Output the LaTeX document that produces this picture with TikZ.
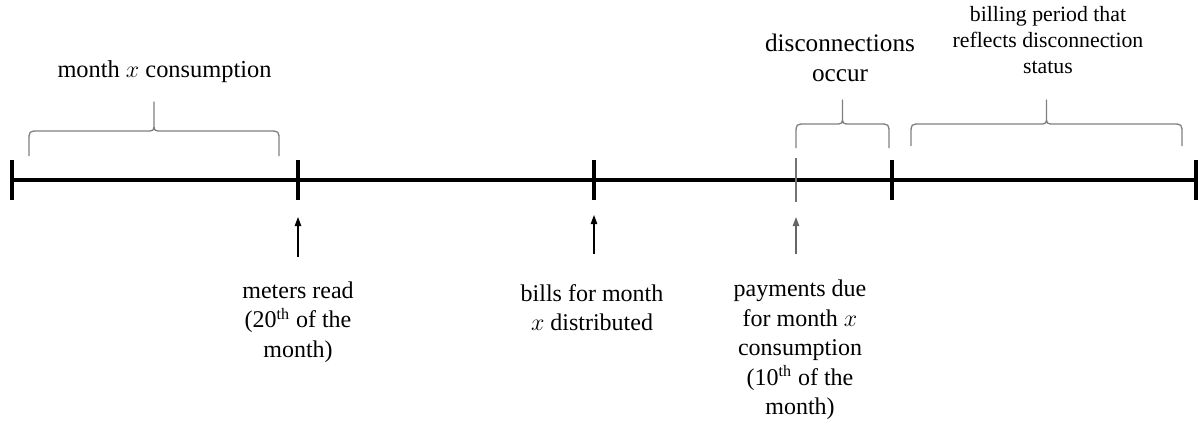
\documentclass[tikz,border=0pt]{standalone}
\usepackage{fontspec}
\setmainfont{Liberation Serif}
\newfontfamily\lserif{Liberation Serif}
\usetikzlibrary{arrows.meta}
\newcommand\timebrace[5]{%
  \pgfmathsetmacro\bmid{(#1+#2)/2}%
  \draw[bracestyle] (#1,#3) -- (#1,#4+10) .. controls (#1,#4) .. (#1+10,#4)
    -- (\bmid-8,#4) .. controls (\bmid,#4) .. (\bmid,#4-8) -- (\bmid,#5)
    -- (\bmid,#4-8) .. controls (\bmid,#4) .. (\bmid+8,#4)
    -- (#2-10,#4) .. controls (#2,#4) .. (#2,#4+10) -- (#2,#3);%
}
\tikzset{
  bracestyle/.style={draw=black!50, line width=0.65pt, line join=round},
  mainline/.style={line width=2.3pt},
  bigtick/.style={line width=2.1pt},
  thintick/.style={draw=black!55, line width=0.6pt},
  uparrow/.style={line width=0.6pt, -{Triangle[width=3.2pt,length=4.5pt]}},
  lbl/.style={inner sep=0pt, align=center, font=\lserif\fontsize{12}{14.75}\selectfont},
  toplbl/.style={inner sep=0pt, align=center, font=\lserif\fontsize{12.6}{15}\selectfont},
  consumlbl/.style={inner sep=0pt, align=center, font=\lserif\fontsize{12.2}{15}\selectfont},
  smalllbl/.style={inner sep=0pt, align=center, font=\lserif\fontsize{10.9}{13}\selectfont},
}
\begin{document}
\begin{tikzpicture}[x=0.5pt,y=-0.5pt]
\useasboundingbox (0,0) rectangle (1198,423);
% tick coordinates
\coordinate (t0t) at (12,160); \coordinate (t0b) at (12,200);
\coordinate (t1t) at (298,160); \coordinate (t1b) at (298,200);
\coordinate (t2t) at (594,160); \coordinate (t2b) at (594,200);
\coordinate (t3t) at (796,158); \coordinate (t3b) at (796,202);
\coordinate (t4t) at (892,160); \coordinate (t4b) at (892,200);
\coordinate (t5t) at (1196,160); \coordinate (t5b) at (1196,200);
\coordinate (ls) at (12,180); \coordinate (le) at (1198,180);
% main line
\draw[mainline] (ls) -- (le);
\draw[bigtick] (t0t) -- (t0b);
\draw[bigtick] (t1t) -- (t1b);
\draw[bigtick] (t2t) -- (t2b);
\draw[thintick] (t3t) -- (t3b);
\draw[bigtick] (t4t) -- (t4b);
\draw[bigtick] (t5t) -- (t5b);
% braces
\timebrace{29}{279}{156}{131}{102}
\timebrace{796}{889}{148}{124}{100}
\timebrace{911}{1182}{146}{124}{100}
% top labels
\node[consumlbl] (consum) at (164.5,72) {month $x$ consumption};
\node[toplbl] (disc) at (840,57.5) {disconnections\\occur};
\node[smalllbl] (bill) at (1048,40) {billing period that\\reflects disconnection\\status};
% arrows
\coordinate (a1s) at (298,257); \coordinate (a1e) at (298,217);
\coordinate (a2s) at (594,254); \coordinate (a2e) at (594,215);
\coordinate (a3s) at (796,254); \coordinate (a3e) at (796,217);
\draw[uparrow] (a1s) -- (a1e);
\draw[uparrow] (a2s) -- (a2e);
\draw[uparrow, draw=black!60, fill=black] (a3s) -- (a3e);
% bottom labels
\node[lbl] (meters) at (298,322) {meters read\\(20\textsuperscript{th} of the\\month)};
\node[lbl] (bills) at (592,307.5) {bills for month\\$x$ distributed};
\node[lbl] (pay) at (800,350) {payments due\\for month $x$\\consumption\\(10\textsuperscript{th} of the\\month)};
\end{tikzpicture}
\end{document}
